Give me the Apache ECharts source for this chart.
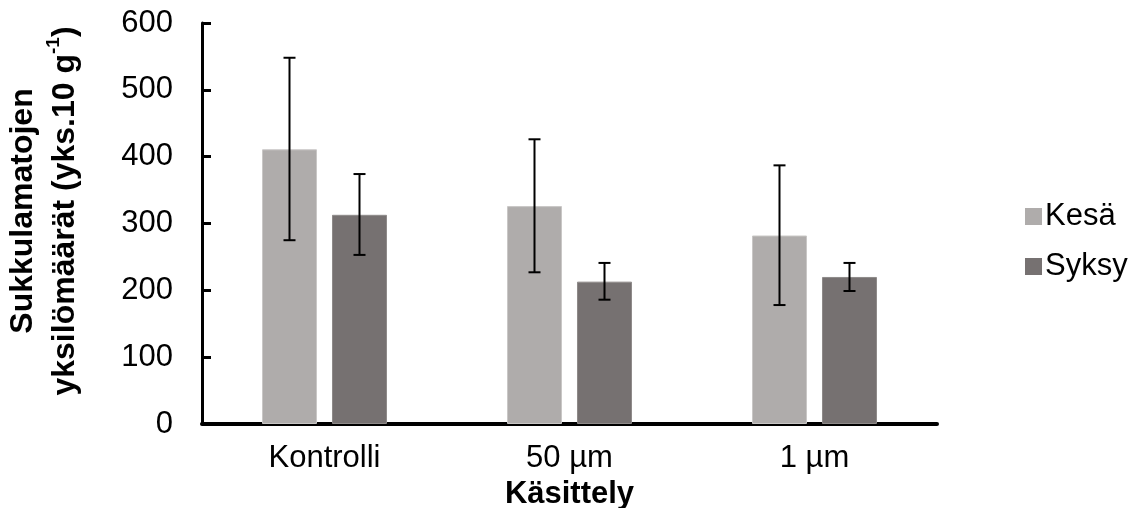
<!DOCTYPE html>
<html>
<head>
<meta charset="utf-8">
<script src="https://cdn.jsdelivr.net/npm/echarts@6/dist/echarts.min.js"></script>
<style>
html,body{margin:0;padding:0;background:#fff;}
#c{width:1139px;height:508px;}
</style>
</head>
<body>
<div id="c"></div>
<script>
const categories = ['Kontrolli', '50 µm', '1 µm'];
const seriesNames = ['Kesä', 'Syksy'];
const kesa = [411, 326, 282];
const syksy = [313, 213, 220];
const kesaLow = [275, 227, 178];
const kesaHigh = [548, 426, 387];
const syksyLow = [253, 186, 199];
const syksyHigh = [374, 241, 241];
const yTicks = [0, 100, 200, 300, 400, 500, 600];

const FONT = '"Liberation Sans", Arial, sans-serif';
const BAR_W = 55, BAR_GAP = 15;
const colors = ['#AFACAB', '#767171'];

function errSeries(low, high, offset) {
  return {
    type: 'custom',
    z: 10,
    silent: true,
    data: categories.map((c, i) => [i, low[i], high[i]]),
    encode: { x: 0, y: [1, 2] },
    renderItem: function (params, api) {
      const i = api.value(0);
      const top = api.coord([i, api.value(2)]);
      const bot = api.coord([i, api.value(1)]);
      const x = top[0] + offset;
      const hw = 6;
      const st = { stroke: '#000', lineWidth: 2 };
      return {
        type: 'group',
        children: [
          { type: 'line', shape: { x1: x, y1: top[1], x2: x, y2: bot[1] }, style: st },
          { type: 'line', shape: { x1: x - hw, y1: top[1], x2: x + hw, y2: top[1] }, style: st },
          { type: 'line', shape: { x1: x - hw, y1: bot[1], x2: x + hw, y2: bot[1] }, style: st }
        ]
      };
    }
  };
}

const chart = echarts.init(document.getElementById('c'), null, { renderer: 'canvas' });
const off = (BAR_W + BAR_GAP) / 2;
chart.setOption({
  animation: false,
  textStyle: { fontFamily: FONT },
  grid: { left: 202, right: 202, top: 23, bottom: 84, containLabel: false, outerBoundsMode: 'none' },
  legend: {
    orient: 'vertical',
    left: 1020,
    top: 196,
    itemWidth: 17,
    itemHeight: 17,
    itemGap: 19,
    icon: 'rect',
    data: seriesNames,
    itemStyle: { borderWidth: 0 },
    textStyle: { fontSize: 31, color: '#000', fontFamily: FONT, padding: [0, 0, 0, -2] }
  },
  xAxis: {
    type: 'category',
    data: categories,
    boundaryGap: true,
    name: 'Käsittely',
    nameLocation: 'middle',
    nameGap: 50,
    nameTextStyle: { fontSize: 31, fontWeight: 'bold', color: '#000', fontFamily: FONT },
    axisLine: { lineStyle: { color: '#000', width: 4 } },
    axisTick: { show: false },
    axisLabel: { fontSize: 31, color: '#000', margin: 19, fontFamily: FONT },
    splitLine: { show: false }
  },
  yAxis: {
    type: 'value',
    min: yTicks[0],
    max: yTicks[yTicks.length - 1],
    interval: yTicks[1] - yTicks[0],
    axisLine: { show: true, lineStyle: { color: '#000', width: 3 } },
    axisTick: { show: true, inside: true, length: 9, lineStyle: { color: '#000', width: 3 } },
    axisLabel: { fontSize: 31, color: '#000', margin: 29, fontFamily: FONT },
    splitLine: { show: false }
  },
  graphic: [{
    type: 'text',
    x: 44,
    y: 211,
    rotation: Math.PI / 2,
    style: {
      text: '{t|Sukkulamatojen}\n{t|yksilömäärät (yks.10 g}{s|-1}{t|)}',
      align: 'center',
      verticalAlign: 'middle',
      fill: '#000',
      rich: {
        t: { fontSize: 32, fontWeight: 'bold', fontFamily: FONT, lineHeight: 42, fill: '#000' },
        s: { fontSize: 19, fontWeight: 'bold', fontFamily: FONT, lineHeight: 30, verticalAlign: 'top', fill: '#000' }
      }
    }
  }],
  series: [
    {
      name: seriesNames[0], type: 'bar', data: kesa, barWidth: BAR_W,
      barGap: (BAR_GAP / BAR_W * 100).toFixed(2) + '%',
      itemStyle: { color: colors[0], borderColor: '#C9C7C6', borderWidth: 1 }
    },
    {
      name: seriesNames[1], type: 'bar', data: syksy, barWidth: BAR_W,
      barGap: (BAR_GAP / BAR_W * 100).toFixed(2) + '%',
      itemStyle: { color: colors[1], borderColor: '#8F8B8A', borderWidth: 1 }
    },
    errSeries(kesaLow, kesaHigh, -off),
    errSeries(syksyLow, syksyHigh, off)
  ]
});
</script>
</body>
</html>
